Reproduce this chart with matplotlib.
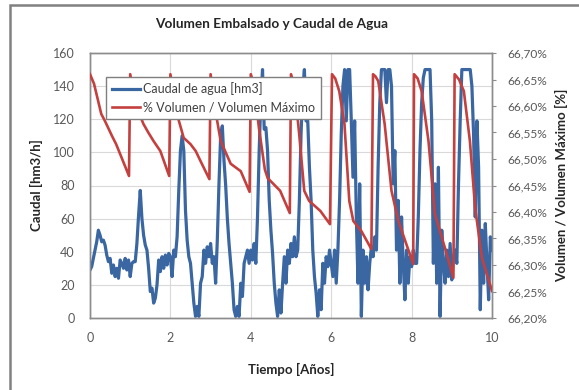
import numpy as np
import matplotlib
matplotlib.use("Agg")
import matplotlib.pyplot as plt
from matplotlib.ticker import FuncFormatter, MultipleLocator
from matplotlib.patches import Rectangle

# ---- data ----
caudal = [
    # year 0
    29, 31, 36, 41, 46, 53, 50, 46, 47, 44, 38, 34, 36, 27, 32, 25, 30, 24, 35, 33, 30, 36, 29, 35,
    # year 1
    25, 33, 34, 34, 45, 62, 77, 60, 50, 44, 41, 30, 16, 18, 9, 12, 20, 35, 28, 37, 30, 38, 32, 39,
    # year 2
    37, 25, 41, 37, 49, 77, 101, 110, 101, 65, 47, 37, 33, 21, 9, 1, 7, 1, 21, 25, 41, 33, 43, 37,
    # year 3
    45, 33, 37, 21, 47, 81, 110, 116, 95, 80, 60, 45, 33, 21, 5, 1, 7, 1, 21, 13, 33, 37, 41, 33,
    # year 4
    41, 35, 45, 33, 61, 101, 132, 150, 114, 115, 101, 71, 53, 39, 21, 9, 1, 17, 3, 21, 37, 21, 41, 33,
    # year 5
    45, 37, 49, 37, 41, 71, 111, 138, 150, 119, 119, 91, 71, 41, 25, 15, 1, 17, 5, 33, 21, 37, 31, 41,
    # year 6
    33, 25, 41, 21, 41, 71, 111, 140, 150, 119, 150, 150, 119, 85, 119, 61, 21, 81, 1, 41, 21, 37, 17, 33,
    # year 7
    43, 37, 49, 41, 91, 130, 150, 150, 150, 130, 150, 150, 140, 81, 101, 41, 71, 21, 61, 33, 11, 41, 21, 37,
    # year 8
    31, 41, 33, 33, 61, 101, 130, 145, 150, 150, 150, 150, 119, 33, 81, 21, 91, 1, 53, 33, 21, 41, 25, 45,
    # year 9
    23, 37, 41, 33, 81, 119, 150, 150, 150, 150, 150, 150, 140, 111, 61, 119, 91, 5, 53, 21, 57, 33, 11, 49,
    41,
]
caudal_t = np.linspace(0, 10, len(caudal))

vol_t = [
    0.00, 0.10, 0.28, 0.37, 0.55, 0.65, 0.80, 0.97,
    1.00, 1.10, 1.20, 1.33, 1.45, 1.58, 1.75, 1.97,
    2.00, 2.10, 2.20, 2.33, 2.50, 2.63, 2.75, 2.97,
    3.00, 3.10, 3.25, 3.50, 3.75, 3.97,
    4.00, 4.08, 4.20, 4.35, 4.42, 4.73, 4.97,
    5.00, 5.08, 5.20, 5.33, 5.45, 5.73, 5.97,
    6.02, 6.10, 6.20, 6.33, 6.45, 6.55, 6.75, 7.00,
    7.04, 7.10, 7.17, 7.33, 7.50, 7.67, 8.04,
    8.06, 8.15, 8.25, 8.42, 8.58, 8.83, 9.04,
    9.07, 9.18, 9.30, 9.45, 9.58, 9.75, 10.00,
]
vol_pct = [
    66.660, 66.642, 66.585, 66.572, 66.543, 66.528, 66.500, 66.468,
    66.660, 66.620, 66.590, 66.566, 66.550, 66.534, 66.515, 66.468,
    66.660, 66.610, 66.575, 66.540, 66.528, 66.515, 66.496, 66.462,
    66.660, 66.600, 66.534, 66.491, 66.477, 66.438,
    66.660, 66.640, 66.560, 66.480, 66.464, 66.440, 66.398,
    66.660, 66.640, 66.550, 66.440, 66.421, 66.402, 66.377,
    66.660, 66.652, 66.628, 66.566, 66.421, 66.383, 66.364, 66.330,
    66.660, 66.656, 66.647, 66.566, 66.440, 66.383, 66.302,
    66.660, 66.652, 66.628, 66.534, 66.396, 66.332, 66.276,
    66.660, 66.650, 66.628, 66.534, 66.408, 66.313, 66.251,
]

x_ticks = [0, 2, 4, 6, 8, 10]
left_ticks = [0, 20, 40, 60, 80, 100, 120, 140, 160]

# ---- style ----
FONT = ["Lato", "DejaVu Sans"]
plt.rcParams['font.family'] = FONT
BLUE = '#3A66A2'
RED = '#C4403F'
GRID = '#D9D9D9'
FRAME = '#8C8C8C'
TICKC = '#595959'

fig = plt.figure(figsize=(5.79, 3.90), dpi=100)
fig.patch.set_facecolor('white')

# outer chart border
fig.patches.append(Rectangle((10 / 579, -0.05), 1.2, 1 - 5 / 390 + 0.05,
                             transform=fig.transFigure, fill=False,
                             edgecolor='#808080', linewidth=1.8))

ax = fig.add_axes([90 / 579, 1 - 318 / 390, (492 - 90) / 579, (318 - 53) / 390])
ax2 = ax.twinx()

l1, = ax.plot(caudal_t, caudal, color=BLUE, lw=2.3, solid_joinstyle='round',
              label='Caudal de agua [hm3]', zorder=3)
l2, = ax2.plot(vol_t, vol_pct, color=RED, lw=1.9, solid_joinstyle='round',
               label='% Volumen / Volumen Máximo', zorder=3)

ax.set_xlim(0, 10)
ax.set_ylim(0, 160)
ax2.set_ylim(66.20, 66.70)
ax.set_xticks(x_ticks)
ax.set_yticks(left_ticks)
ax2.yaxis.set_major_locator(MultipleLocator(0.05))
ax2.yaxis.set_major_formatter(FuncFormatter(lambda v, p: f"{v:.2f}%".replace('.', ',')))

ax.grid(True, color=GRID, lw=0.8)
ax.set_axisbelow(True)

for a in (ax, ax2):
    for s in a.spines.values():
        s.set_color(FRAME)
        s.set_linewidth(1.0)

ax.tick_params(axis='both', length=0, labelsize=9, colors=TICKC)
ax.tick_params(axis='y', pad=11)
ax.tick_params(axis='x', pad=10)
ax2.tick_params(axis='y', length=3, width=0.8, color=FRAME, labelsize=8.6,
                labelcolor=TICKC, pad=8)

ax.set_xlabel('Tiempo [Años]', fontsize=9.5, fontweight='bold', color='#262626', labelpad=14)
ax.set_ylabel('Caudal [hm3/h]', fontsize=9.5, fontweight='bold', color='#262626', labelpad=7)
ax2.set_ylabel('Volumen / Volumen Máximo [%]', fontsize=9.5, fontweight='bold',
               color='#262626', labelpad=6)

fig.text(272 / 579, 1 - 24 / 390, 'Volumen Embalsado y Caudal de Agua',
         ha='center', va='center', fontsize=9.8, fontweight='bold', color='#262626')

leg = ax2.legend([l1, l2], [l1.get_label(), l2.get_label()], loc='upper left',
                 bbox_to_anchor=(0.04, 0.91), fontsize=9, frameon=True, fancybox=False,
                 edgecolor='#7F7F7F', framealpha=1, handlelength=2.3, handletextpad=0.2,
                 borderpad=0.45, labelspacing=0.45, borderaxespad=0)
leg.get_frame().set_linewidth(1.0)
for t in leg.get_texts():
    t.set_color('#404040')
leg.set_zorder(10)

fig.savefig('out.png', dpi=100)
